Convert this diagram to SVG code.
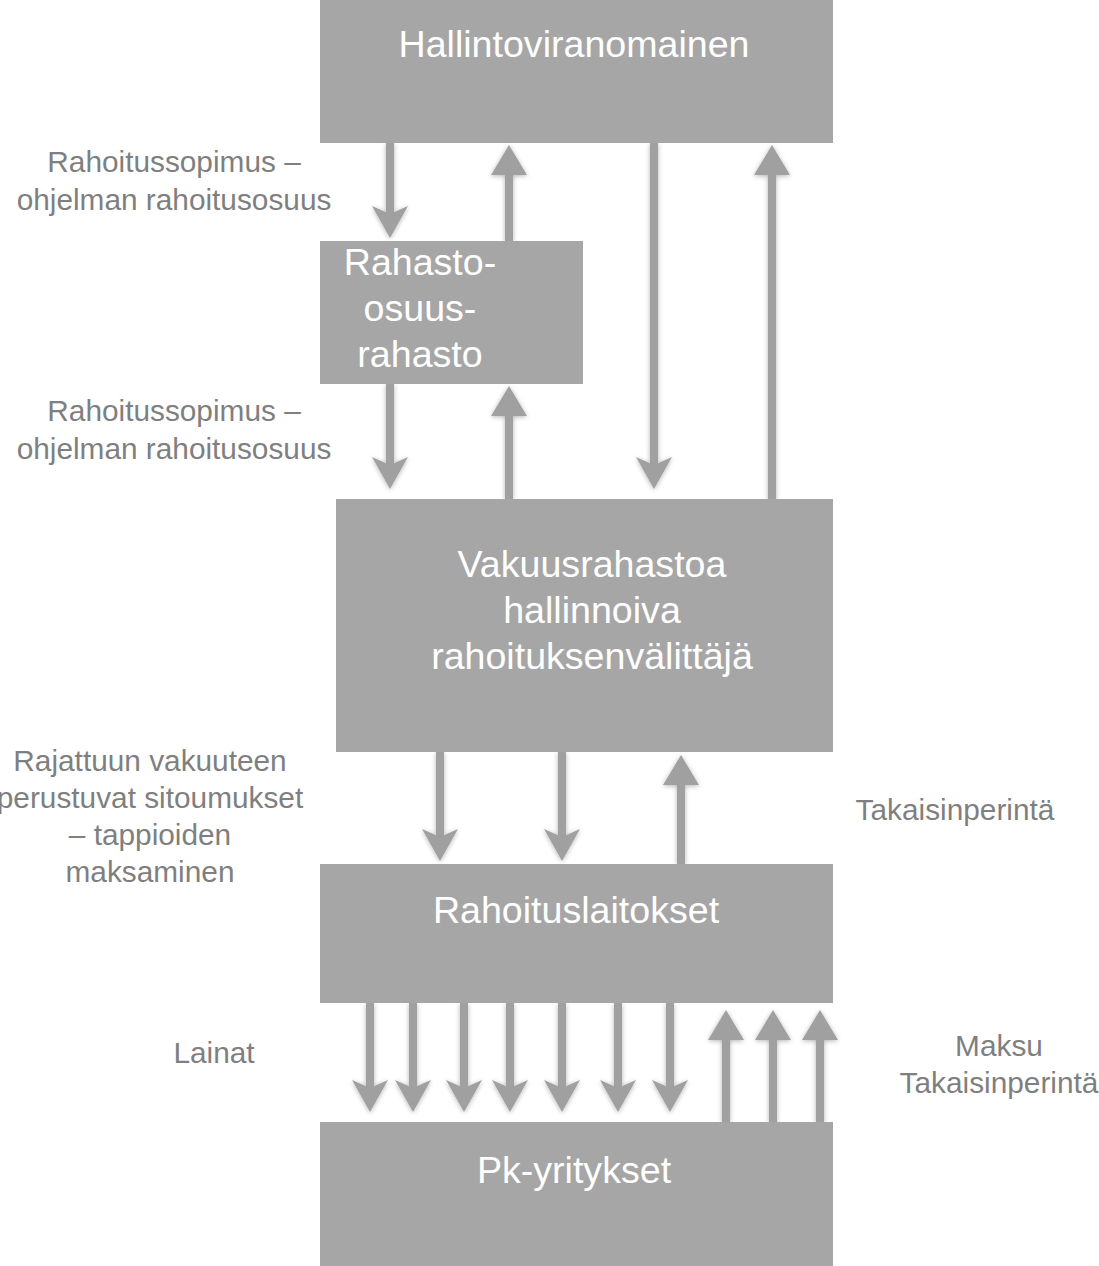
<svg xmlns="http://www.w3.org/2000/svg" width="1099" height="1266" viewBox="0 0 1099 1266">
<style>
.box{fill:#a6a6a6}
.bt{font-family:"Liberation Sans",Arial,sans-serif;font-size:37.6px;fill:#ffffff;text-anchor:middle}
.lb{font-family:"Liberation Sans",Arial,sans-serif;font-size:29.8px;fill:#7f7f7f;text-anchor:middle}
.ar{stroke:#a0a0a0;stroke-width:8;fill:none}
.dn{marker-end:url(#hd)}
.up{marker-end:url(#hu)}
</style>
<defs>
<filter id="sh" x="-50%" y="-10%" width="200%" height="120%">
<feGaussianBlur in="SourceAlpha" stdDeviation="2.5"/>
<feOffset dx="0" dy="1" result="b"/>
<feComponentTransfer><feFuncA type="linear" slope="0.3"/></feComponentTransfer>
<feMerge><feMergeNode/><feMergeNode in="SourceGraphic"/></feMerge>
</filter>
<marker id="hd" markerUnits="userSpaceOnUse" viewBox="-20 -20 40 40" refX="0" refY="0" markerWidth="40" markerHeight="40" orient="auto">
<path d="M-17,-18 L15,0 L-17,18 L-9,0 Z" fill="#a0a0a0"/>
</marker>
<marker id="hu" markerUnits="userSpaceOnUse" viewBox="-20 -20 40 40" refX="0" refY="0" markerWidth="40" markerHeight="40" orient="auto">
<path d="M-15,-18 L15,0 L-15,18 Z" fill="#a0a0a0"/>
</marker>
</defs>
<rect width="1099" height="1266" fill="#ffffff"/>

<g id="connectors" filter="url(#sh)">
<line class="ar dn" x1="390" y1="143" x2="390" y2="223"/>
<line class="ar up" x1="509" y1="241" x2="509" y2="160"/>
<line class="ar dn" x1="654" y1="143" x2="654" y2="474"/>
<line class="ar up" x1="772" y1="499" x2="772" y2="160"/>
<line class="ar dn" x1="390" y1="384" x2="390" y2="474"/>
<line class="ar up" x1="509" y1="499" x2="509" y2="401"/>
<line class="ar dn" x1="440" y1="752" x2="440" y2="846"/>
<line class="ar dn" x1="562" y1="752" x2="562" y2="846"/>
<line class="ar up" x1="681" y1="864" x2="681" y2="770"/>
<line class="ar dn" x1="370" y1="1003" x2="370" y2="1097"/>
<line class="ar dn" x1="413" y1="1003" x2="413" y2="1097"/>
<line class="ar dn" x1="464" y1="1003" x2="464" y2="1097"/>
<line class="ar dn" x1="510" y1="1003" x2="510" y2="1097"/>
<line class="ar dn" x1="562" y1="1003" x2="562" y2="1097"/>
<line class="ar dn" x1="618" y1="1003" x2="618" y2="1097"/>
<line class="ar dn" x1="670" y1="1003" x2="670" y2="1097"/>
<line class="ar up" x1="726" y1="1122" x2="726" y2="1025"/>
<line class="ar up" x1="773" y1="1122" x2="773" y2="1025"/>
<line class="ar up" x1="820" y1="1122" x2="820" y2="1025"/>
</g>

<g id="hallintoviranomainen">
<rect class="box" x="320" y="0" width="513" height="143"/>
<text class="bt" x="574" y="57">Hallintoviranomainen</text>
</g>
<g id="rahastoosuusrahasto">
<rect class="box" x="320" y="241" width="263" height="143"/>
<text class="bt" x="420" y="275">Rahasto-</text>
<text class="bt" x="420" y="321">osuus-</text>
<text class="bt" x="420" y="367">rahasto</text>
</g>
<g id="vakuusrahasto">
<rect class="box" x="336" y="499" width="497" height="253"/>
<text class="bt" x="592" y="577">Vakuusrahastoa</text>
<text class="bt" x="592" y="623">hallinnoiva</text>
<text class="bt" x="592" y="669">rahoituksenvälittäjä</text>
</g>
<g id="rahoituslaitokset">
<rect class="box" x="320" y="864" width="513" height="139"/>
<text class="bt" x="576" y="923">Rahoituslaitokset</text>
</g>
<g id="pkyritykset">
<rect class="box" x="320" y="1122" width="513" height="144"/>
<text class="bt" x="574" y="1183">Pk-yritykset</text>
</g>

<g id="labels">
<text class="lb" x="174" y="172">Rahoitussopimus –</text>
<text class="lb" x="174" y="210">ohjelman rahoitusosuus</text>
<text class="lb" x="174" y="421">Rahoitussopimus –</text>
<text class="lb" x="174" y="459">ohjelman rahoitusosuus</text>
<text class="lb" x="150" y="771">Rajattuun vakuuteen</text>
<text class="lb" x="150" y="808">perustuvat sitoumukset</text>
<text class="lb" x="150" y="845">– tappioiden</text>
<text class="lb" x="150" y="882">maksaminen</text>
<text class="lb" x="955" y="820">Takaisinperintä</text>
<text class="lb" x="214" y="1063">Lainat</text>
<text class="lb" x="999" y="1056">Maksu</text>
<text class="lb" x="999" y="1093">Takaisinperintä</text>
</g>
</svg>
